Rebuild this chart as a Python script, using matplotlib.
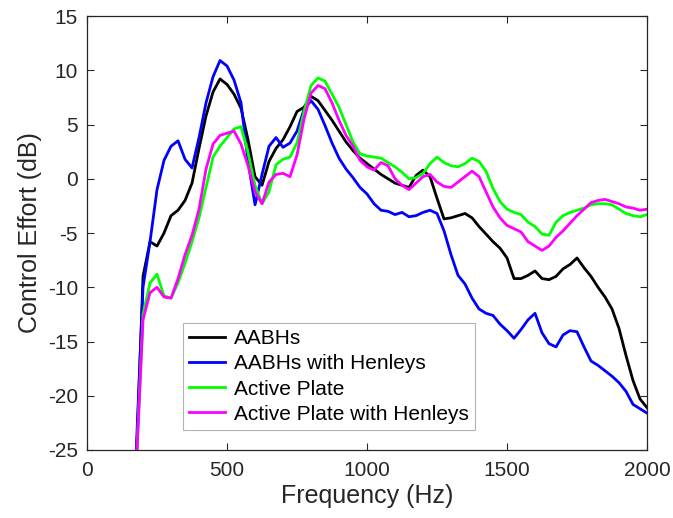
import numpy as np
import matplotlib
matplotlib.use('Agg')
import matplotlib.pyplot as plt

plt.rcParams['font.family'] = ['Liberation Sans', 'DejaVu Sans']
plt.rcParams['axes.unicode_minus'] = False

# frequency grid (Hz)
freq = np.arange(175, 2001, 25)

aabh = [-27, -9.0, -5.8, -6.2, -5.0, -3.4, -2.9, -2.0, -0.4, 2.8,
        5.8, 8.0, 9.2, 8.7, 7.8, 6.5, 3.6, 0.2, -0.6, 1.6,
        2.8, 3.6, 4.8, 6.2, 6.6, 7.6, 7.2, 6.3, 5.4, 4.4,
        3.4, 2.6, 1.9, 1.4, 0.9, 0.4, 0.0, -0.4, -0.6, -0.8,
        0.3, 0.8, 0.2, -1.8, -3.7, -3.6, -3.4, -3.2, -3.6, -4.4,
        -5.1, -5.8, -6.4, -7.3, -9.2, -9.2, -8.9, -8.5, -9.2, -9.3,
        -9.0, -8.3, -7.9, -7.3, -8.2, -9.0, -10.0, -10.9, -12.0, -13.8,
        -16.3, -18.6, -20.3, -21.1]

aabh_henley = [-25.5, -10.0, -5.8, -1.0, 1.7, 3.0, 3.5, 1.8, 1.0, 3.8,
               7.0, 9.4, 10.9, 10.4, 9.1, 7.0, 1.6, -2.4, 0.4, 3.0,
               3.8, 2.9, 3.3, 4.4, 6.4, 7.2, 6.4, 4.9, 3.3, 1.9,
               0.9, 0.1, -0.8, -1.4, -2.3, -2.9, -3.0, -3.3, -3.1, -3.5,
               -3.4, -3.1, -2.9, -3.2, -4.8, -7.0, -8.9, -9.7, -11.0, -12.0,
               -12.4, -12.6, -13.4, -14.0, -14.7, -13.9, -13.0, -12.4, -14.2, -15.2,
               -15.5, -14.4, -14.0, -14.1, -15.5, -16.8, -17.2, -17.7, -18.2, -18.8,
               -19.6, -20.8, -21.2, -21.6]

plate = [-27, -12.5, -9.6, -8.8, -10.8, -11.0, -9.6, -7.8, -5.8, -3.6,
         -0.8, 2.0, 3.0, 3.8, 4.6, 4.8, 2.4, -0.6, -2.3, -1.2,
         1.3, 1.8, 2.0, 3.3, 6.2, 8.6, 9.3, 9.0, 7.8, 6.6,
         5.0, 3.4, 2.3, 2.1, 2.0, 1.9, 1.5, 1.1, 0.6, 0.0,
         0.1, 0.5, 1.4, 2.0, 1.5, 1.2, 1.1, 1.4, 1.9, 1.6,
         0.7, -0.9, -2.1, -2.8, -3.1, -3.3, -4.0, -4.4, -5.1, -5.2,
         -4.0, -3.4, -3.1, -2.9, -2.7, -2.4, -2.3, -2.3, -2.4, -2.8,
         -3.2, -3.4, -3.5, -3.3]

plate_henley = [-27, -13.0, -10.5, -10.0, -10.9, -11.0, -9.2, -7.0, -5.2, -2.8,
                0.9, 3.2, 4.0, 4.2, 4.4, 3.2, 1.2, -1.2, -2.3, -0.3,
                0.4, 0.5, 0.2, 2.2, 5.5, 7.9, 8.6, 8.3, 7.0, 5.4,
                4.0, 3.0, 1.7, 1.1, 0.8, 1.5, 1.2, 0.0, -0.6, -1.0,
                -0.4, 0.2, 0.4, -0.3, -0.7, -0.8, -0.3, 0.2, 0.7, 0.2,
                -1.2, -2.6, -3.6, -4.3, -4.6, -4.9, -5.8, -6.2, -6.6, -6.2,
                -5.4, -4.8, -4.1, -3.4, -2.8, -2.2, -2.0, -1.9, -2.1, -2.3,
                -2.6, -2.7, -2.9, -2.8]

fig = plt.figure(figsize=(6.73, 5.18), dpi=100)
ax = fig.add_axes([0.1293, 0.1313, 0.8321, 0.8377])

ax.plot(freq, aabh, color='k', lw=2, label='AABHs')
ax.plot(freq, aabh_henley, color='#0000ff', lw=2, label='AABHs with Henleys')
ax.plot(freq, plate, color='#00ff00', lw=2, label='Active Plate')
ax.plot(freq, plate_henley, color='#ff00ff', lw=2, label='Active Plate with Henleys')

ax.set_xlim(0, 2000)
ax.set_ylim(-25, 15)
ax.set_xticks(np.arange(0, 2001, 500))
ax.set_yticks(np.arange(-25, 16, 5))
ax.tick_params(direction='in', top=True, right=True, length=5, width=0.8,
               labelsize=15, colors='#262626')
ax.tick_params(axis='x', pad=8)
ax.tick_params(axis='y', pad=6.5)
for s in ax.spines.values():
    s.set_color('#262626')
    s.set_linewidth(0.9)

ax.set_xlabel('Frequency (Hz)', fontsize=18, color='#262626', labelpad=3)
ax.set_ylabel('Control Effort (dB)', fontsize=18, color='#262626', labelpad=4)

leg = ax.legend(loc='lower left', bbox_to_anchor=(0.171, 0.046), fontsize=15,
                frameon=True, fancybox=False, edgecolor='#a0a0a0',
                handlelength=1.75, borderpad=0.3, labelspacing=0.3,
                handletextpad=0.4, borderaxespad=0)
leg.get_frame().set_linewidth(0.8)

fig.savefig('out.png', dpi=100)
